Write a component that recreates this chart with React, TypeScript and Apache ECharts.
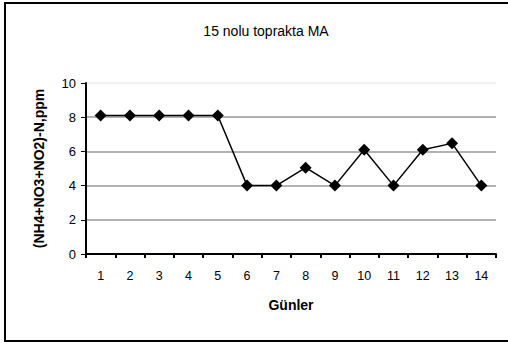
import React, { useEffect, useRef } from "react";
import * as echarts from "echarts";

const days = ["1", "2", "3", "4", "5", "6", "7", "8", "9", "10", "11", "12", "13", "14"];
const nValues = [8.1, 8.1, 8.1, 8.1, 8.1, 4.0, 4.0, 5.05, 4.0, 6.1, 4.0, 6.1, 6.47, 4.0];
const yTicks = [0, 2, 4, 6, 8, 10];

const FONT = "'Liberation Sans', Arial, sans-serif";

export default function App() {
  const ref = useRef<HTMLDivElement>(null);

  useEffect(() => {
    if (!ref.current) return;
    const chart = echarts.init(ref.current, undefined, { renderer: "svg" });
    chart.setOption({
      animation: false,
      backgroundColor: "#ffffff",
      textStyle: { fontFamily: FONT, color: "#000" },
      title: {
        text: "15 nolu toprakta MA",
        left: 261,
        textAlign: "center",
        top: 19,
        textStyle: { fontFamily: FONT, fontSize: 14, fontWeight: "normal", color: "#000" },
      },
      graphic: [
        {
          type: "rect",
          shape: { x: 5, y: 3, width: 520, height: 338 },
          style: { fill: "none", stroke: "#000", lineWidth: 2 },
          silent: true,
        },
      ],
      grid: { left: 86, right: 12, top: 83, bottom: 93, containLabel: false },
      xAxis: {
        type: "category",
        data: days,
        boundaryGap: true,
        name: "Günler",
        nameLocation: "middle",
        nameGap: 44,
        nameTextStyle: { fontFamily: FONT, fontSize: 14, fontWeight: "bold", color: "#000" },
        axisLine: { lineStyle: { color: "#000", width: 2 } },
        axisTick: { show: true, alignWithLabel: false, length: 4, lineStyle: { color: "#000", width: 2 } },
        axisLabel: { fontFamily: FONT, fontSize: 12.5, color: "#000", margin: 15 },
      },
      yAxis: {
        type: "value",
        min: yTicks[0],
        max: yTicks[yTicks.length - 1],
        interval: 2,
        name: "(NH4+NO3+NO2)-N,ppm",
        nameLocation: "middle",
        nameGap: 40,
        nameRotate: 90,
        nameTextStyle: { fontFamily: FONT, fontSize: 14, fontWeight: "bold", color: "#000" },
        axisLine: { show: true, lineStyle: { color: "#000", width: 2 } },
        axisTick: { show: true, length: 5, lineStyle: { color: "#000", width: 1 } },
        axisLabel: { fontFamily: FONT, fontSize: 13, color: "#000", margin: 10 },
        splitLine: {
          show: true,
          lineStyle: { color: ["#999", "#999", "#999", "#999", "#999", "#eeeeee"], width: 1.5 },
        },
      },
      series: [
        {
          type: "line",
          data: nValues,
          symbol: "diamond",
          symbolSize: 12,
          lineStyle: { color: "#000", width: 1.5 },
          itemStyle: { color: "#000" },
        },
      ],
    });
    return () => chart.dispose();
  }, []);

  return (
    <div
      ref={ref}
      style={{ position: "absolute", left: 0, top: 0, width: 508, height: 347 }}
    />
  );
}
